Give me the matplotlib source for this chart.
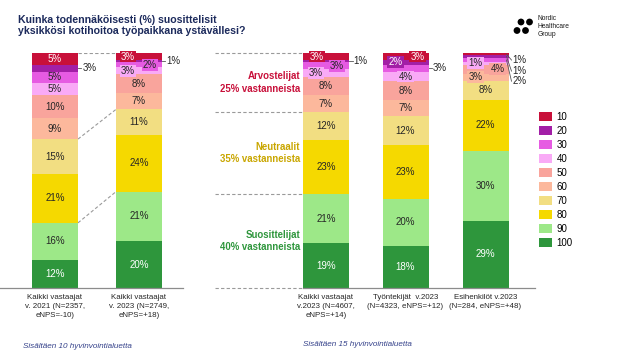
import matplotlib
matplotlib.use("Agg")
import matplotlib.pyplot as plt
from matplotlib.patches import Patch, Ellipse
import numpy as np

plt.rcParams['font.family'] = ['Liberation Sans', 'DejaVu Sans']

# ---------------- data ----------------
levels = ['10', '20', '30', '40', '50', '60', '70', '80', '90', '100']
colors = ['#C8103A', '#A21FA6', '#E65BE2', '#F9AAF6', '#F9A49C', '#FCB89C',
          '#F2DE82', '#F5D900', '#9DE888', '#2E963C']

# values in order 10 ... 100
kaikki_2021 = [5, 3, 5, 5, 10, 9, 15, 21, 16, 12]
kaikki_2023_a = [3, 1, 2, 3, 8, 7, 11, 24, 21, 20]
kaikki_2023_b = [3, 1, 3, 3, 8, 7, 12, 23, 21, 19]
tyontekijat_2023 = [3, 2, 3, 4, 8, 7, 12, 23, 20, 18]
esihenkilot_2023 = [1, 1, 2, 1, 4, 3, 8, 22, 30, 29]

left_labels = ['Kaikki vastaajat\nv. 2021 (N=2357,\neNPS=-10)',
               'Kaikki vastaajat\nv. 2023 (N=2749,\neNPS=+18)']
right_labels = ['Kaikki vastaajat\nv.2023 (N=4607,\neNPS=+14)',
                'Työntekijät  v.2023\n(N=4323, eNPS=+12)',
                'Esihenkilöt v.2023\n(N=284, eNPS=+48)']

title = 'Kuinka todennäköisesti (%) suosittelisit\nyksikkösi kotihoitoa työpaikkana ystävällesi?'
foot_left = 'Sisältäen 10 hyvinvointialuetta'
foot_right = 'Sisältäen 15 hyvinvointialuetta'
group_names = ['Arvostelijat', 'Neutraalit', 'Suosittelijat']
group_colors = ['#C8103A', '#C9A600', '#2E963C']

# ---------------- layout / style ----------------
W, H = 642, 361
fig = plt.figure(figsize=(W / 100, H / 100), dpi=100)
Y_TOP, Y_BOT = 53, 288


def fx(px):
    return px / W


def fy(py):
    return 1 - py / H


ax1 = fig.add_axes([fx(0), fy(Y_BOT), fx(183), (Y_BOT - Y_TOP) / H])
ax2 = fig.add_axes([fx(215), fy(Y_BOT), fx(535) - fx(215), (Y_BOT - Y_TOP) / H])
ax1.set_xlim(0, 183)
ax2.set_xlim(215, 535)
for ax in (ax1, ax2):
    ax.set_ylim(0, 100)
    for s in ax.spines.values():
        s.set_visible(False)
    ax.set_yticks([])
    ax.patch.set_alpha(0)

left_x = [55, 139]
right_x = [326, 405.5, 485.5]
BW = 46
FS = 7

txt_dark = '#262626'
line_gray = '#9A9A9A'
dash = (0, (3, 2))

# label placement styles: (dx for boxed labels, outside indices, text y overrides)
left_cfg = [dict(dx={}, out=[1], oy={}),
            dict(dx={0: -11, 2: 11, 3: -11}, out=[1], oy={})]
right_cfg = [dict(dx={0: -9, 2: 11, 3: -10}, out=[1], oy={}),
             dict(dx={0: 12, 1: -10, 3: 0}, out=[2], oy={}),
             dict(dx={3: -10, 4: 12, 5: -10}, out=[0, 1, 2], oy={0: 97, 1: 92.3, 2: 88})]


def draw_bar(ax, x, vals, cfg):
    vals = np.array(vals, dtype=float)
    scaled = vals / vals.sum() * 100
    # stack from 100 (bottom) to 10 (top)
    order = list(range(len(vals)))[::-1]
    bottom = 0.0
    bounds = {}
    for i in order:
        ax.bar(x, scaled[i], width=BW, bottom=bottom, color=colors[i],
               edgecolor='none', zorder=2)
        bounds[i] = (bottom, bottom + scaled[i])
        bottom += scaled[i]
    for i in range(len(vals)):
        lo, hi = bounds[i]
        yc = (lo + hi) / 2
        label = f'{int(vals[i])}%'
        tcol = 'white' if i in (0, 1, 9) else txt_dark
        if i in cfg['out']:
            xr = x + BW / 2
            if i in cfg['oy']:
                ty = cfg['oy'][i]
                ax.plot([xr - 2, xr + 3], [yc, ty], color='#555555', lw=0.6,
                        zorder=3, clip_on=False)
                ax.text(xr + 4, ty, label, ha='left', va='center', fontsize=FS,
                        color=txt_dark, clip_on=False)
            else:
                ax.plot([xr, xr + 3.5], [yc, yc], color='#555555', lw=0.6,
                        zorder=3, clip_on=False)
                ax.text(xr + 4.5, yc, label, ha='left', va='center', fontsize=FS,
                        color=txt_dark, clip_on=False)
        elif i in cfg['dx']:
            ax.text(x + cfg['dx'][i], yc, label, ha='center', va='center',
                    fontsize=FS, color=tcol, zorder=4,
                    bbox=dict(boxstyle='square,pad=0.1', fc=colors[i], ec='none'))
        else:
            ax.text(x, yc, label, ha='center', va='center', fontsize=FS,
                    color=tcol, zorder=4)
    return scaled, bounds


# ---------- left chart ----------
left_data = [kaikki_2021, kaikki_2023_a]
lb = []
for x, d, c in zip(left_x, left_data, left_cfg):
    lb.append(draw_bar(ax1, x, d, c))

# connectors between the two bars
r0 = left_x[0] + BW / 2
l1 = left_x[1] - BW / 2
ax1.plot([r0, l1], [100, 100], color=line_gray, lw=0.8, ls=dash, zorder=1)
for idx in (6, 8):  # top of passives, top of promoters
    y0 = lb[0][1][idx][1]
    y1 = lb[1][1][idx][1]
    ax1.plot([r0, l1], [y0, y1], color=line_gray, lw=0.8, ls=dash, zorder=1)
ax1.plot([0, 183], [0, 0], color='#8C8C8C', lw=0.9, clip_on=False, zorder=3)
ax1.set_xticks(left_x)
ax1.set_xticklabels(left_labels, fontsize=5.7, color=txt_dark)

# ---------- right chart ----------
right_data = [kaikki_2023_b, tyontekijat_2023, esihenkilot_2023]
rb = []
for x, d, c in zip(right_x, right_data, right_cfg):
    rb.append(draw_bar(ax2, x, d, c))

b0 = rb[0][1]
lvl_y = [0, b0[8][1], b0[6][1], 100]
x_left0 = right_x[0] - BW / 2
for yv in lvl_y:
    ax2.plot([215, x_left0], [yv, yv], color=line_gray, lw=0.8, ls=dash,
             zorder=1, clip_on=False)
ax2.plot([x_left0, 535], [0, 0], color='#8C8C8C', lw=0.9, clip_on=False, zorder=3)

vals0 = np.array(kaikki_2023_b)
group_pcts = [int(vals0[:6].sum()), int(vals0[6:8].sum()), int(vals0[8:].sum())]
group_centers = [(b0[5][0] + 100) / 2, (b0[7][0] + b0[6][1]) / 2, (0 + b0[8][1]) / 2]
for name, pct, yc, col in zip(group_names, group_pcts, group_centers, group_colors):
    ax2.text(300, yc, f'{name}\n{pct}% vastanneista', ha='right', va='center',
             fontsize=6.9, fontweight='bold', color=col, linespacing=1.3,
             clip_on=False)

ax2.set_xticks(right_x)
ax2.set_xticklabels(right_labels, fontsize=5.7, color=txt_dark)

for ax in (ax1, ax2):
    ax.tick_params(axis='x', length=0, pad=4)
    for t in ax.get_xticklabels():
        t.set_linespacing(1.45)

# ---------- legend ----------
handles = [Patch(facecolor=c, edgecolor='none', label=l) for c, l in zip(colors, levels)]
fig.legend(handles=handles, loc='upper left', bbox_to_anchor=(fx(539), fy(112)),
           frameon=False, fontsize=7, handlelength=1.35, handleheight=1.05,
           labelspacing=0.41, handletextpad=0.45, borderpad=0, borderaxespad=0)

# ---------- texts ----------
fig.text(fx(18), fy(15), title, ha='left', va='top', fontsize=7.6,
         fontweight='bold', color='#1C2A5C', linespacing=1.15)
fig.text(fx(23), fy(347), foot_left, ha='left', va='center', fontsize=5.9,
         style='italic', color='#34418A')
fig.text(fx(303), fy(345), foot_right, ha='left', va='center', fontsize=5.9,
         style='italic', color='#34418A')

# logo
for cx, cy in [(521, 22), (529.5, 22), (517, 30.5), (525.5, 30.5)]:
    fig.patches.append(Ellipse((fx(cx), fy(cy)), 6.8 / W, 6.8 / H,
                               transform=fig.transFigure,
                               facecolor='black', edgecolor='none'))
fig.text(fx(538), fy(15), 'Nordic\nHealthcare\nGroup', ha='left', va='top',
         fontsize=4.8, color='#1A1A1A', linespacing=1.2)

fig.savefig('out.png', dpi=100)
